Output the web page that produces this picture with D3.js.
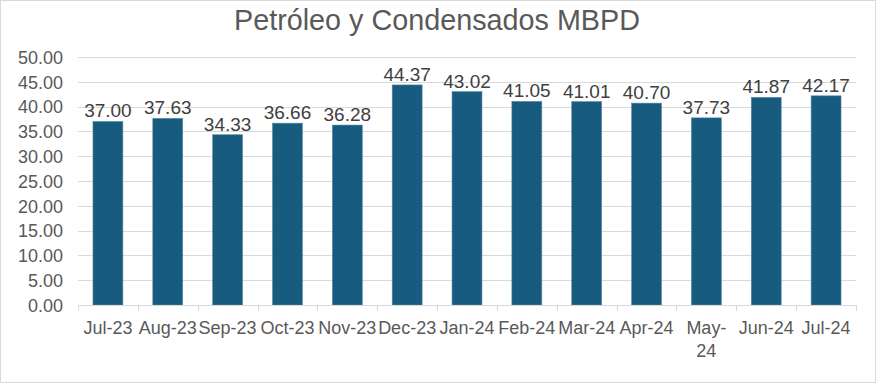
<!DOCTYPE html>
<html><head><meta charset="utf-8">
<script src="https://cdn.jsdelivr.net/npm/d3@7"></script>
<style>body{margin:0;background:#fff}svg{display:block}</style>
</head><body>
<script>
const categories = ["Jul-23","Aug-23","Sep-23","Oct-23","Nov-23","Dec-23","Jan-24","Feb-24","Mar-24","Apr-24","May-24","Jun-24","Jul-24"];
const values = [37.00,37.63,34.33,36.66,36.28,44.37,43.02,41.05,41.01,40.70,37.73,41.87,42.17];
const yTicks = [0,5,10,15,20,25,30,35,40,45,50];
const title = "Petróleo y Condensados MBPD";

const W = 877, H = 384;
const m = {left:78, right:21, top:57, bottom:79};
const svg = d3.select("body").append("svg").attr("width",W).attr("height",H);
svg.append("rect").attr("x",0.5).attr("y",0.5).attr("width",W-2).attr("height",H-2)
  .attr("fill","#fff").attr("stroke","#d9d9d9");

const x = d3.scaleBand().domain(categories).range([m.left, W-m.right]).paddingInner(0.5).paddingOuter(0.25);
const y = d3.scaleLinear().domain([0,50]).range([H-m.bottom, m.top]);
const font = "Liberation Sans, Arial, sans-serif";

svg.append("text").attr("x",437).attr("y",30).attr("text-anchor","middle")
  .attr("font-family",font).attr("font-size",29).attr("fill","#595959")
  .attr("textLength",406).attr("lengthAdjust","spacingAndGlyphs").text(title);

// gridlines
svg.append("g").selectAll("line").data(yTicks.filter(d=>d>0)).join("line")
  .attr("x1",m.left).attr("x2",W-m.right).attr("y1",d=>Math.round(y(d))+0.5).attr("y2",d=>Math.round(y(d))+0.5)
  .attr("stroke","#d9d9d9").attr("stroke-width",1);

// y axis labels
const ya = svg.append("g").attr("transform",`translate(${m.left-12},0)`)
  .call(d3.axisLeft(y).tickValues(yTicks).tickFormat(d3.format(".2f")).tickSize(0));
ya.select(".domain").remove();
ya.selectAll("text").attr("font-family",font).attr("font-size",18).attr("fill","#595959").attr("dx",0).attr("dy","0.35em");

// bars
svg.append("g").selectAll("rect").data(values).join("rect")
  .attr("x",(d,i)=>x(categories[i])).attr("width",x.bandwidth())
  .attr("y",d=>y(d)).attr("height",d=>y(0)-y(d))
  .attr("fill","#175c7f").attr("stroke","#5a8aa3").attr("stroke-width",0.6);

// value labels
svg.append("g").selectAll("text").data(values).join("text")
  .attr("x",(d,i)=>x(categories[i])+x.bandwidth()/2).attr("y",d=>y(d)-4)
  .attr("text-anchor","middle").attr("font-family",font).attr("font-size",19).attr("fill","#404040")
  .text(d=>d3.format(".2f")(d));

// x axis
const xa = svg.append("g").attr("transform",`translate(0,${y(0)})`)
  .call(d3.axisBottom(x).tickSize(0).tickFormat(""));
xa.select(".domain").attr("stroke","#d9d9d9").attr("d",`M${m.left},0.5H${W-m.right}`);
const step = x.step();
const bounds = d3.range(categories.length+1).map(i=>m.left + i*step);
svg.append("g").selectAll("line").data(bounds).join("line")
  .attr("x1",d=>Math.round(d)+0.5).attr("x2",d=>Math.round(d)+0.5)
  .attr("y1",y(0)).attr("y2",y(0)+6).attr("stroke","#d9d9d9");

const lab = svg.append("g").selectAll("text").data(categories).join("text")
  .attr("x",d=>x(d)+x.bandwidth()/2).attr("y",y(0)+29)
  .attr("text-anchor","middle").attr("font-family",font).attr("font-size",18).attr("fill","#595959");
lab.each(function(d){
  const t = d3.select(this);
  if (d === "May-24") {
    t.append("tspan").attr("x",x(d)+x.bandwidth()/2).text("May-");
    t.append("tspan").attr("x",x(d)+x.bandwidth()/2).attr("dy",23).text("24");
  } else t.text(d);
});
</script>
</body></html>
